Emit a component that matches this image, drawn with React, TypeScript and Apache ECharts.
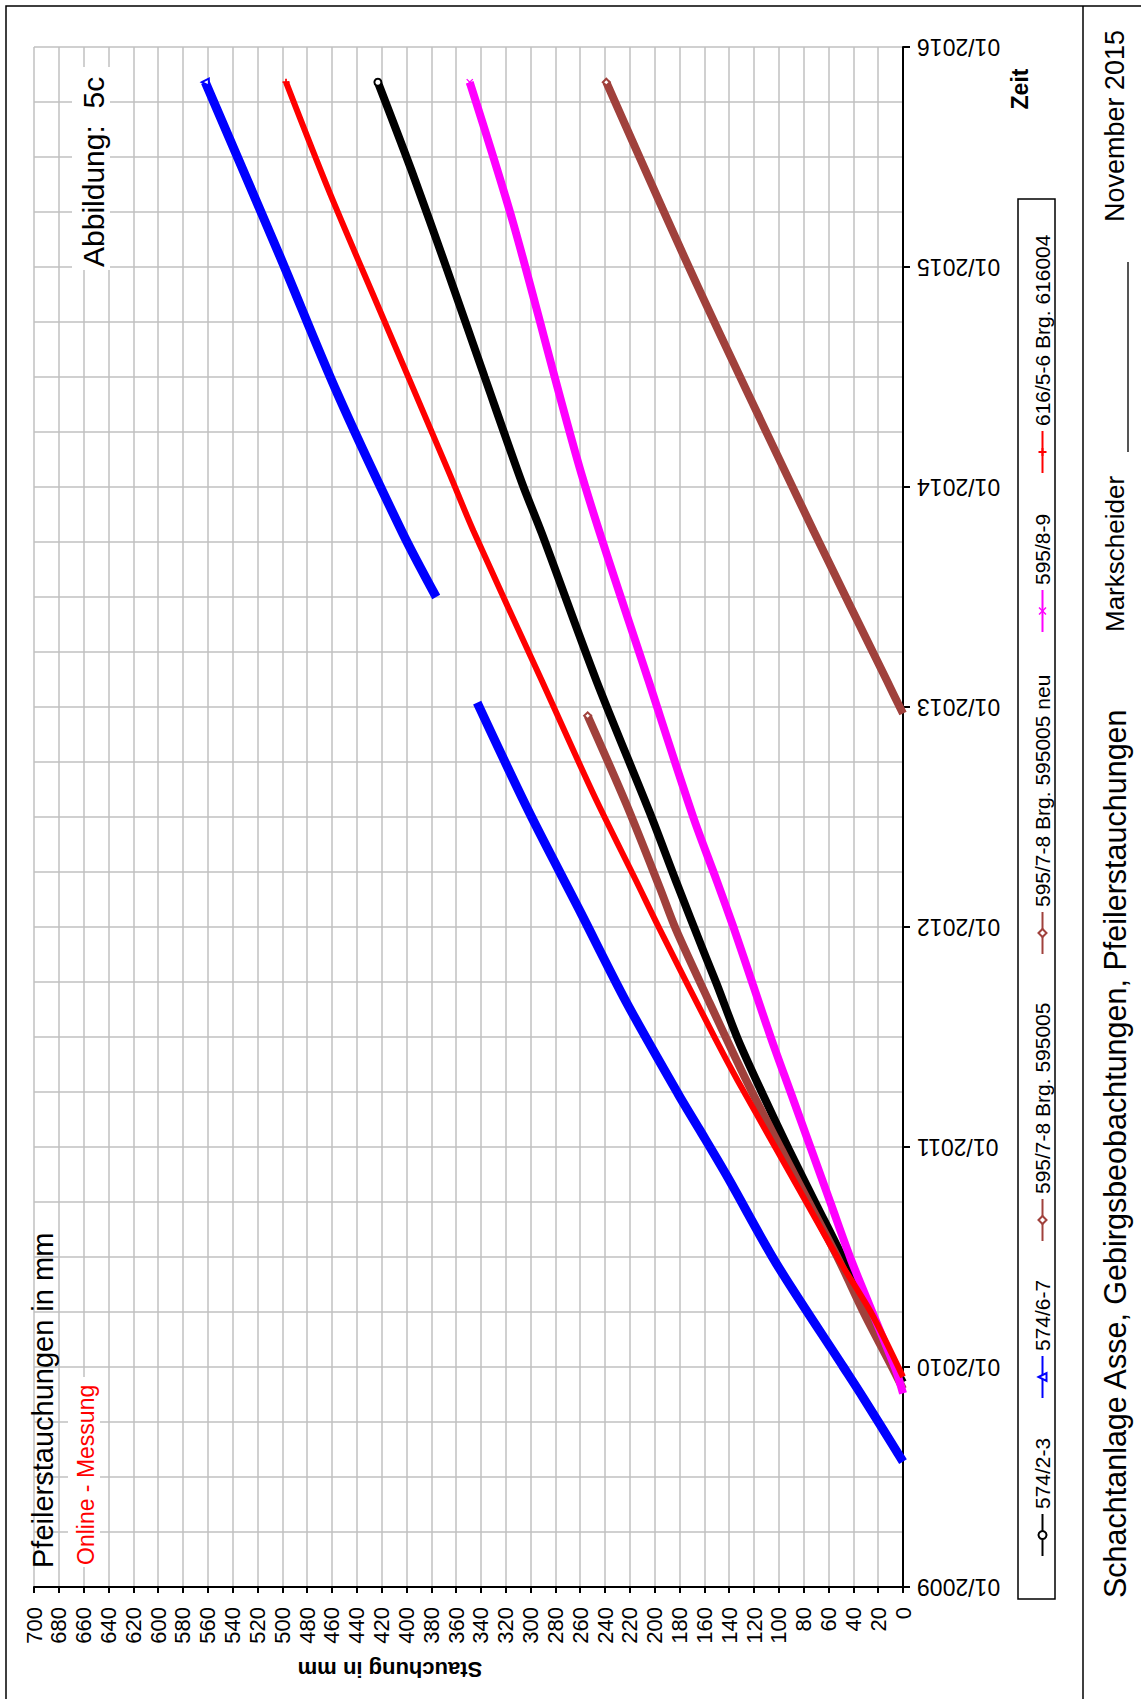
import React, { useEffect, useRef } from 'react';
import * as echarts from 'echarts';

// page is drawn as a landscape chart and turned by 90 degrees
const PAGE_W = 1141;
const PAGE_H = 1699;
const FONT = 'Liberation Sans, Arial, Helvetica, sans-serif';

// time in decimal years, Stauchung in mm
const s574_23 = [
  [2009.93, 0], [2010.18, 24], [2010.49, 48], [2010.74, 70], [2010.99, 92],
  [2011.24, 113], [2011.49, 133], [2011.74, 150], [2011.88, 160], [2012.21, 183],
  [2012.52, 204], [2013.12, 247], [2013.79, 291], [2014.02, 307],
  [2014.5, 337], [2015.0, 368], [2015.44, 396], [2015.84, 423],
];
const s574_67 = [
  [2009.57, 0], [2009.86, 32], [2010.0, 48], [2010.47, 102], [2010.87, 142], [2011.08, 164],
  [2011.24, 181], [2011.66, 223], [2012.07, 260], [2012.52, 301], [2013.02, 343],
  [2013.26, null],
  [2013.5, 376], [2013.79, 403], [2014.43, 456], [2015.05, 502], [2015.84, 562],
];
const s595005 = [
  [2009.9, 0], [2009.99, 8], [2010.24, 31], [2010.49, 52], [2010.74, 75], [2010.99, 98],
  [2011.3, 126], [2011.67, 157], [2011.99, 183], [2012.18, 196], [2012.56, 223],
  [2012.96, 254],
];
const s595005neu = [
  [2012.97, 0], [2013.12, 13], [2013.8, 72], [2014.92, 166], [2015.84, 239],
];
const s595_89 = [
  [2009.88, 0], [2009.99, 6], [2010.24, 24], [2010.49, 42], [2010.74, 58], [2010.99, 74],
  [2011.24, 90], [2011.49, 106], [2011.74, 121], [2011.99, 136], [2012.21, 150],
  [2012.5, 169], [2013.12, 205], [2014.04, 258], [2015.2, 314], [2015.84, 349],
];
const s616004 = [
  [2009.955, 0], [2010.24, 25], [2010.49, 52], [2010.74, 77], [2010.99, 102],
  [2011.3, 133], [2011.49, 151], [2011.99, 196], [2012.21, 215], [2012.6, 249],
  [2013.12, 291], [2013.8, 346], [2014.07, 366], [2014.81, 422],
  [2015.34, 462], [2015.84, 497],
];

const seriesNames = [
  '574/2-3',
  '574/6-7',
  '595/7-8 Brg. 595005',
  '595/7-8 Brg. 595005 neu',
  '595/8-9',
  '616/5-6 Brg. 616004',
];
const seriesData = [s574_23, s574_67, s595005, s595005neu, s595_89, s616004];
const seriesColors = ['#000000', '#0000ff', '#a0413c', '#a0413c', '#ff00ff', '#ff0000'];
const seriesWidths = [8, 9, 8, 8, 8, 6];
const seriesSymbols = [
  'emptyCircle',
  'emptyTriangle',
  'emptyDiamond',
  'emptyDiamond',
  'path://M1,0L4,3L7,0L8,1L5,4L8,7L7,8L4,5L1,8L0,7L3,4L0,1Z',
  'path://M3,0H5V3H8V5H5V8H3V5H0V3H3Z',
];
// legend icon start positions along the (unrotated) x direction
const legendLeft = [142, 300, 457, 744, 1066, 1225];

const yearLabel = (v: number) => {
  const r = Math.round(v);
  return Math.abs(v - r) < 1e-6 ? `01/${r}` : '';
};

const App: React.FC = () => {
  const chartref = useRef<HTMLDivElement>(null);
  useEffect(() => {
    const myChart = echarts.init(chartref.current as HTMLDivElement, undefined, {
      renderer: 'svg',
      width: PAGE_H,
      height: PAGE_W,
    });

    const text = (
      x: number,
      y: number,
      t: string,
      size: number,
      extra: Record<string, unknown> = {},
    ) => ({
      type: 'text',
      x,
      y,
      z: 60,
      style: {
        text: t,
        fontSize: size,
        fontFamily: FONT,
        fill: '#000',
        align: 'left',
        verticalAlign: 'middle',
        ...extra,
      },
    });

    const option: echarts.EChartsOption = {
      animation: false,
      backgroundColor: '#fff',
      textStyle: { fontFamily: FONT },
      grid: { left: 112, right: 47, top: 34, bottom: 238 },
      legend: seriesNames.map((name, i) => ({
        data: [name],
        left: legendLeft[i],
        top: 1032,
        padding: 0,
        itemWidth: 42,
        itemHeight: 10,
        selectedMode: false,
        lineStyle: { width: 2 },
        textStyle: { fontSize: 21, color: '#000', fontFamily: FONT },
      })),
      xAxis: [
        {
          type: 'value',
          min: 2009,
          max: 2016,
          interval: 0.25,
          axisLine: { show: true, lineStyle: { color: '#000', width: 2 } },
          axisTick: { show: false },
          splitLine: { show: true, lineStyle: { color: '#c0c0c0', width: 1.5 } },
          axisLabel: {
            formatter: yearLabel,
            rotate: 90,
            fontSize: 23,
            color: '#000',
            margin: 14,
          },
        },
        {
          type: 'value',
          position: 'bottom',
          min: 2009,
          max: 2016,
          interval: 1,
          axisLine: { show: false },
          axisTick: { show: true, length: 7, lineStyle: { color: '#000', width: 2 } },
          axisLabel: { show: false },
          splitLine: { show: false },
        },
      ],
      yAxis: {
        type: 'value',
        min: 0,
        max: 700,
        interval: 20,
        axisLine: { show: true, lineStyle: { color: '#000', width: 2 } },
        axisTick: { show: true, length: 6, lineStyle: { color: '#000', width: 2 } },
        splitLine: { show: true, lineStyle: { color: '#c0c0c0', width: 1.5 } },
        axisLabel: { fontSize: 22, color: '#000', margin: 20 },
      },
      series: seriesNames.map((name, i) => {
        const last = seriesData[i].length - 1;
        return {
          type: 'line',
          name,
          data: seriesData[i],
          xAxisIndex: 0,
          smooth: 0.3,
          showSymbol: true,
          symbol: seriesSymbols[i],
          // marker only at the newest reading
          symbolSize: (_v: unknown, p: { dataIndex: number }) => (p.dataIndex === last ? 7 : 0),
          connectNulls: false,
          color: seriesColors[i],
          lineStyle: { color: seriesColors[i], width: seriesWidths[i] },
          itemStyle: { color: seriesColors[i] },
          z: 2 + i,
        };
      }),
      graphic: [
        // outer frame and footer separator
        {
          type: 'rect',
          shape: { x: -10, y: 6, width: 1703, height: 1150 },
          style: { fill: 'none', stroke: '#000', lineWidth: 1.5 },
          z: 60,
        },
        {
          type: 'line',
          shape: { x1: -10, y1: 1083, x2: 1693, y2: 1083 },
          style: { stroke: '#000', lineWidth: 1.5 },
          z: 60,
        },
        // legend frame
        {
          type: 'rect',
          shape: { x: 100, y: 1018, width: 1400, height: 37 },
          style: { fill: 'none', stroke: '#000', lineWidth: 1.5 },
          z: 60,
        },
        text(131, 43, 'Pfeilerstauchungen in mm', 29),
        {
          type: 'rect',
          shape: { x: 132, y: 68, width: 190, height: 32 },
          style: { fill: '#fff' },
          z: 55,
        },
        text(134, 86, 'Online - Messung', 23, { fill: '#ff0000' }),
        {
          type: 'rect',
          shape: { x: 1429, y: 72, width: 203, height: 38 },
          style: { fill: '#fff' },
          z: 55,
        },
        text(1432, 93, 'Abbildung:\u00a0 5c', 30),
        text(1610, 1020, 'Zeit', 23, { fontWeight: 'bold', align: 'center' }),
        {
          type: 'text',
          x: 30,
          y: 390,
          rotation: Math.PI / 2,
          z: 60,
          style: {
            text: 'Stauchung in mm',
            fontSize: 22,
            fontWeight: 'bold',
            fontFamily: FONT,
            fill: '#000',
            align: 'center',
            verticalAlign: 'middle',
          },
        },
        text(101, 1115, 'Schachtanlage Asse, Gebirgsbeobachtungen, Pfeilerstauchungen', 30.5),
        text(1067, 1115, 'Markscheider', 26),
        {
          type: 'line',
          shape: { x1: 1247, y1: 1128, x2: 1437, y2: 1128 },
          style: { stroke: '#555', lineWidth: 2 },
          z: 60,
        },
        text(1477, 1115, 'November 2015', 27),
      ],
    };
    myChart.setOption(option);

    return () => {
      myChart.dispose();
    };
  }, []);

  return (
    <div
      style={{
        position: 'absolute',
        left: 0,
        top: 0,
        width: PAGE_W,
        height: PAGE_H,
        overflow: 'hidden',
        background: '#fff',
      }}
    >
      <div
        ref={chartref}
        style={{
          position: 'absolute',
          left: 0,
          top: 0,
          width: PAGE_H,
          height: PAGE_W,
          transformOrigin: '0 0',
          transform: `translateY(${PAGE_H}px) rotate(-90deg)`,
        }}
      />
    </div>
  );
};

export default App;
